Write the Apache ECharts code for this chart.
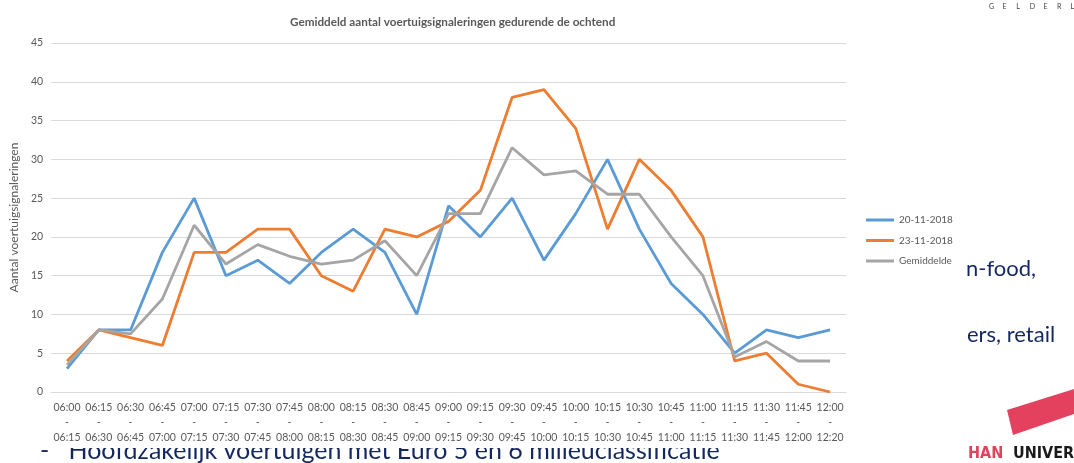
<!DOCTYPE html>
<html>
<head>
<meta charset="utf-8">
<script src="https://cdn.jsdelivr.net/npm/echarts@6/dist/echarts.min.js"></script>
<style>
    html, body { margin: 0; padding: 0; background: #fff; }
    #chart { width: 1074px; height: 463px; }
</style>
</head>
<body>
<div id="chart"></div>
<script>
// tijdvakken van een kwartier
const categories = [
    '06:00 - 06:15', '06:15 - 06:30', '06:30 - 06:45', '06:45 - 07:00', '07:00 - 07:15',
    '07:15 - 07:30', '07:30 - 07:45', '07:45 - 08:00', '08:00 - 08:15', '08:15 - 08:30',
    '08:30 - 08:45', '08:45 - 09:00', '09:00 - 09:15', '09:15 - 09:30', '09:30 - 09:45',
    '09:45 - 10:00', '10:00 - 10:15', '10:15 - 10:30', '10:30 - 10:45', '10:45 - 11:00',
    '11:00 - 11:15', '11:15 - 11:30', '11:30 - 11:45', '11:45 - 12:00', '12:00 - 12:20'
];
const dag1 = [3, 8, 8, 18, 25, 15, 17, 14, 18, 21, 18, 10, 24, 20, 25, 17, 23, 30, 21, 14, 10, 5, 8, 7, 8];
const dag2 = [4, 8, 7, 6, 18, 18, 21, 21, 15, 13, 21, 20, 22, 26, 38, 39, 34, 21, 30, 26, 20, 4, 5, 1, 0];
const gemiddelde = [3.5, 8, 7.5, 12, 21.5, 16.5, 19, 17.5, 16.5, 17, 19.5, 15, 23, 23, 31.5, 28, 28.5, 25.5, 25.5, 20, 15, 4.5, 6.5, 4, 4];
const yTicks = [0, 5, 10, 15, 20, 25, 30, 35, 40, 45];

const font = 'Lato, "Open Sans", sans-serif';
const navy = '#14285f';

// resten van de dia achter de grafiek
let slide = [
    {
        type: 'text',
        left: 40,
        top: 438,
        z: -10,
        style: { text: '-   Hoofdzakelijk voertuigen met Euro 5 en 6 milieuclassificatie', fontFamily: font, fontSize: 25, fill: navy }
    },
    {
        // de grafiek is een plaatje dat over de tekst heen ligt
        type: 'rect',
        z: -5,
        shape: { x: 0, y: 380, width: 960, height: 68 },
        style: { fill: '#fff' }
    },
    {
        type: 'text',
        left: 966,
        top: 258,
        style: { text: 'n-food,', fontFamily: font, fontSize: 22, fill: navy }
    },
    {
        type: 'text',
        left: 967,
        top: 324,
        style: { text: 'ers, retail', fontFamily: font, fontSize: 22, fill: navy }
    },
    {
        type: 'polygon',
        shape: { points: [[1007, 410], [1074, 389], [1074, 414], [1013, 435]] },
        style: { fill: '#e4415f' }
    },
    {
        type: 'text',
        left: 968,
        top: 446,
        style: { text: 'HAN', fontFamily: '"Liberation Sans Narrow", "DejaVu Sans Condensed", sans-serif', fontSize: 16, fontWeight: 'bold', fill: '#e4415f' }
    },
    {
        type: 'text',
        left: 1013,
        top: 446,
        style: { text: 'UNIVERSITY', fontFamily: '"Liberation Sans Narrow", "DejaVu Sans Condensed", sans-serif', fontSize: 16, fontWeight: 'bold', fill: '#1a1a1a' }
    }
];
'GELDERLAND'.split('').forEach(function (c, i) {
    slide.push({
        type: 'text',
        left: 989 + i * 13.6,
        top: 3,
        style: { text: c, fontFamily: font, fontSize: 7, fill: '#404040' }
    });
});

let myChart = echarts.init(document.getElementById('chart'));
let option = {
    textStyle: {
        fontFamily: font
    },
    color: ['#5B9BD5', '#ED7D31', '#A5A5A5'],
    title: {
        text: 'Gemiddeld aantal voertuigsignaleringen gedurende de ochtend',
        left: 285,
        top: 11,
        textStyle: {
            fontFamily: font,
            fontSize: 11.7,
            fontWeight: 'bold',
            color: '#595959'
        }
    },
    legend: {
        orient: 'vertical',
        left: 861,
        top: 210,
        icon: 'rect',
        itemWidth: 28,
        itemHeight: 3,
        itemGap: 10.5,
        textStyle: {
            fontFamily: font,
            fontSize: 10,
            color: '#595959'
        },
        data: ['20-11-2018', '23-11-2018', 'Gemiddelde']
    },
    grid: {
        left: 51,
        right: 228,
        top: 43,
        bottom: 71
    },
    xAxis: {
        type: 'category',
        data: categories,
        boundaryGap: true,
        axisLine: {
            lineStyle: { color: '#d9d9d9' }
        },
        axisTick: { show: false },
        axisLabel: {
            interval: 0,
            margin: 8,
            fontFamily: font,
            fontSize: 10.5,
            lineHeight: 15,
            color: '#595959',
            formatter: function (v) {
                return v.replace(' - ', '\n-\n');
            }
        }
    },
    yAxis: {
        type: 'value',
        min: yTicks[0],
        max: yTicks[yTicks.length - 1],
        interval: 5,
        name: 'Aantal voertuigsignaleringen',
        nameLocation: 'middle',
        nameGap: 31,
        nameTextStyle: {
            fontFamily: font,
            fontSize: 12,
            color: '#595959'
        },
        axisLine: { show: false },
        axisTick: { show: false },
        axisLabel: {
            margin: 8,
            fontFamily: font,
            fontSize: 10.5,
            color: '#595959'
        },
        splitLine: {
            lineStyle: { color: '#d9d9d9', width: 1 }
        }
    },
    series: [
        {
            name: '20-11-2018',
            type: 'line',
            symbol: 'none',
            lineStyle: { width: 2.8 },
            data: dag1
        },
        {
            name: '23-11-2018',
            type: 'line',
            symbol: 'none',
            lineStyle: { width: 2.8 },
            data: dag2
        },
        {
            name: 'Gemiddelde',
            type: 'line',
            symbol: 'none',
            lineStyle: { width: 2.8 },
            data: gemiddelde
        }
    ],
    graphic: slide
};
myChart.setOption(option);
</script>
</body>
</html>
